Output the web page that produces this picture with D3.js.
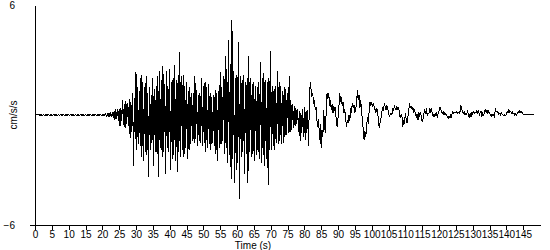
<!DOCTYPE html>
<html>
<head>
<meta charset="utf-8">
<script src="https://cdn.jsdelivr.net/npm/d3@7"></script>
<style>
    body { margin: 0; background: #fff; }
    text { font-family: Arial, "Liberation Sans", sans-serif; font-size: 10px; fill: #000; }
</style>
</head>
<body>
<svg id="chart" width="550" height="250"></svg>
<script>
// sample step of the record (s)
var dt = 0.25

var timeTicks = d3.range(0, 150, 5)
var yLabelValues = [-6, 6]

// acceleration (cm/s/s), one line = 5 s
var accel = [
    0, 0.06, 0.04, 0.01, 0.03, -0.03, 0.02, -0.03, 0.03, -0.02, 0.03, -0.03, 0.02, -0.03, 0.03, -0.02, 0.03, -0.03, 0.02, -0.03,
    0.02, -0.03, 0.03, -0.02, 0.03, -0.03, 0.02, -0.03, 0.03, -0.03, 0.03, -0.02, 0.03, -0.03, 0.02, -0.03, 0.02, -0.03, 0.03, -0.02,
    0.03, -0.02, 0.03, -0.03, 0.02, -0.03, 0.03, -0.02, 0.03, -0.03, 0.02, -0.03, 0.03, -0.03, 0.03, -0.02, 0.03, -0.03, 0.02, -0.03,
    0.02, -0.03, 0.03, -0.02, 0.03, -0.03, 0.02, -0.03, 0.03, -0.03, 0.03, -0.03, 0.03, -0.03, 0.03, -0.03, 0.03, -0.03, 0.03, -0.03,
    0.03, -0.05, 0.06, -0.04, 0.07, -0.06, 0.05, -0.08, 0.12, -0.1, 0.15, -0.12, 0.17, -0.14, 0.2, -0.25, 0.3, -0.22, 0.35, -0.3,
    0.33, -0.6, 0.4, -0.35, 0.8, -0.55, 0.6, -0.7, 0.78, -0.5, 0.65, -0.6, 0.85, -1.27, 0.7, -0.9, 1.18, -2.8, 0.9, -1.3,
    2.36, -1.9, 1.5, -1.6, 1.3, -1.7, 2.2, -2.3, 1.8, -2.5, 1.5, -2.0, 2.1, -2.2, 1.2, -3.4, 1.55, -1.9, 1.1, -1.5,
    2.0, -2.8, 1.4, -2.0, 1.6, -2.1, 2.1, -3.4, 2.4, -1.8, 1.9, -2.3, 2.67, -2.0, 1.7, -3.2, 2.4, -1.8, 1.6, -2.0,
    2.5, -3.0, 1.8, -2.4, 2.0, -2.2, 2.7, -2.5, 1.9, -3.1, 2.2, -2.0, 3.45, -2.3, 2.1, -1.9, 2.2, -2.3, 1.6, -1.8,
    1.8, -2.4, 1.3, -1.9, 1.55, -1.6, 1.2, -1.4, 1.2, -1.5, 2.1, -1.3, 1.35, -1.7, 1.1, -1.4, 1.2, -1.5, 2.0, -1.7,
    1.6, -1.5, 1.8, -2.0, 1.5, -1.8, 1.7, -1.6, 1.2, -1.9, 1.0, -1.5, 1.1, -1.7, 1.35, -2.1, 1.2, -2.5, 1.3, -1.8,
    2.36, -1.6, 1.5, -1.4, 2.1, -2.1, 3.2, -1.8, 2.5, -2.6, 4.1, -2.2, 2.8, -3.5, 5.2, -2.4, 2.4, -3.7, 2.0, -3.0,
    2.2, -2.6, 4.0, -4.6, 2.1, -2.3, 1.9, -2.0, 2.2, -3.2, 1.8, -2.1, 2.0, -3.7, 3.2, -2.0, 2.0, -2.3, 1.7, -2.1,
    1.8, -2.5, 1.6, -2.2, 1.5, -2.0, 1.8, -2.4, 2.9, -2.6, 2.0, -2.2, 2.3, -2.8, 1.9, -2.4, 1.8, -3.8, 2.0, -1.9,
    3.5, -1.9, 1.6, -1.7, 1.4, -1.9, 1.6, -1.5, 2.4, -1.6, 1.8, -1.4, 1.6, -1.6, 1.3, -1.5, 1.5, -1.2, 1.4, -1.1,
    1.2, -1.0, 2.1, -0.9, 0.8, -0.8, 0.6, -0.7, 0.5, -0.6, 0.4, -0.5, 0.3, -0.9, 0.2, -1.4, 0.1, -1.0, 0.3, -1.2,
    0.45, -1.36, 0.2, -1.0, 0.27, -1.7, 0.8, 1.8, 1.4, 1.0, 1.2, 0.6, 0.8, 0.27, 0.45, -0.3, -0.64, -0.2, -1.36, -0.5,
    -1.8, -0.8, -1.2, 0.27, -0.6, -1.0, 0.2, 1.2, 0.9, 1.2, 0.5, 0.8, 0.3, 0.6, 0.1, 0.5, 0.2, 0.45, -0.45, -0.64,
    -0.2, 0.4, 1.2, 0.8, 0.9, 0.5, 0.7, 0.1, 0.3, -0.1, -0.64, -0.3, -0.45, 0.0, -0.3, 0.3, 0.2, 0.64, 0.4, 0.55,
    0.1, 0.3, 0.6, 1.36, 0.8, 1.1, 0.4, 0.8, 0.2, -0.27, -0.8, -1.36, -0.9, -1.2, -0.6, -0.1, -0.5, 0.2, 0.73, 0.5,
    0.73, 0.45, 0.6, 0.45, 0.3, 0.1, 0.4, 0.2, -0.3, -0.73, -0.4, -0.2, 0.1, 0.45, 0.2, 0.64, 0.45, 0.27, 0.55, 0.3,
    0.18, -0.1, 0.05, 0.1, 0.0, 0.36, 0.2, 0.55, 0.35, 0.27, 0.45, 0.3, 0.45, 0.1, -0.18, 0.05, -0.1, -0.64, -0.3, -0.5,
    0.1, -0.2, -0.45, -0.1, 0.2, 0.64, 0.4, 0.45, 0.3, 0.45, 0.1, 0.25, 0.1, -0.1, 0.05, -0.27, 0.18, -0.09, 0.1, -0.05,
    -0.36, -0.2, 0.1, 0.27, 0.15, 0.27, 0.0, 0.1, 0.05, 0.35, 0.2, 0.3, 0.09, -0.09, 0.05, -0.05, 0.0, 0.18, -0.18, 0.1,
    0.2, 0.45, 0.3, 0.18, 0.1, 0.18, 0.0, 0.12, 0.05, 0.0, -0.1, -0.18, -0.05, -0.15, 0.0, -0.1, 0.18, 0.09, 0.15, 0.1,
    0.12, 0.18, 0.09, 0.15, 0.1, 0.2, 0.55, 0.3, 0.18, 0.1, 0.15, 0.0, 0.1, 0.05, 0.18, 0.0, -0.18, 0.1, -0.1, 0.18,
    0.05, 0.18, 0.09, 0.15, 0.1, 0.27, 0.05, 0.2, 0.0, 0.15, 0.18, -0.09, 0.1, -0.05, 0.2, 0.27, 0.15, 0.27, 0.09, 0.2,
    0.1, 0.0, -0.09, 0.05, -0.05, 0.0, -0.09, 0.36, 0.2, 0.15, 0.18, 0.05, 0.1, 0.0, 0.12, 0.05, 0.0, -0.05, 0.03, -0.03,
    0.0, 0.18, 0.1, 0.27, 0.15, 0.2, 0.1, 0.18, 0.05, 0.09, 0.0, 0.05, 0.0, 0.1, 0.18, 0.1, 0.24, 0.15, 0.2, 0.1,
    0.04, 0.03, 0.03, 0.03, 0.03, 0.03, 0.03, 0.03, 0.03, 0.03, 0.03, 0.03, 0.03, 0.03
]

var svg = d3.select('#chart')

var xScale = d3.scaleLinear().domain([0, 150]).range([35, 540])
var yScale = d3.scaleLinear().domain([-6, 6]).range([225, 5])

// x axis
var xAxis = d3.axisBottom(xScale)
    .tickValues(timeTicks)
    .tickSize(5)
    .tickSizeOuter(0)
    .tickPadding(1)
var gx = svg.append('g')
    .attr('transform', 'translate(0,' + yScale(-6) + ')')
    .call(xAxis)
gx.selectAll('path, line').attr('stroke', '#000').attr('shape-rendering', 'crispEdges')
gx.selectAll('text').style('font-size', '10px').style('font-family', 'Arial, "Liberation Sans", sans-serif')

// y axis, labels only at the ends
var yAxis = d3.axisLeft(yScale)
    .tickValues(yLabelValues)
    .tickSize(0)
    .tickSizeOuter(0)
    .tickPadding(20)
var gy = svg.append('g')
    .attr('transform', 'translate(' + xScale(0) + ',0)')
    .call(yAxis)
gy.selectAll('path').attr('stroke', '#000').attr('shape-rendering', 'crispEdges')
gy.selectAll('text').style('font-size', '10px').style('font-family', 'Arial, "Liberation Sans", sans-serif')

// small stub left of the origin
svg.append('line')
    .attr('x1', xScale(0) - 5).attr('x2', xScale(0))
    .attr('y1', yScale(-6)).attr('y2', yScale(-6))
    .attr('stroke', '#000')
    .attr('shape-rendering', 'crispEdges')

// trace
var line = d3.line()
    .x(function (d, i) { return xScale(i * dt) })
    .y(function (d) { return yScale(d) })

svg.append('path')
    .datum(accel)
    .attr('d', line)
    .attr('fill', 'none')
    .attr('stroke', '#000')
    .attr('stroke-width', 1)
    .attr('shape-rendering', 'crispEdges')

// axis titles
svg.append('text')
    .attr('x', 253)
    .attr('y', 249)
    .attr('text-anchor', 'middle')
    .text('Time (s)')

svg.append('text')
    .attr('transform', 'translate(17,' + yScale(0) + ') rotate(-90)')
    .attr('text-anchor', 'middle')
    .text('cm/s/s')
</script>
</body>
</html>
